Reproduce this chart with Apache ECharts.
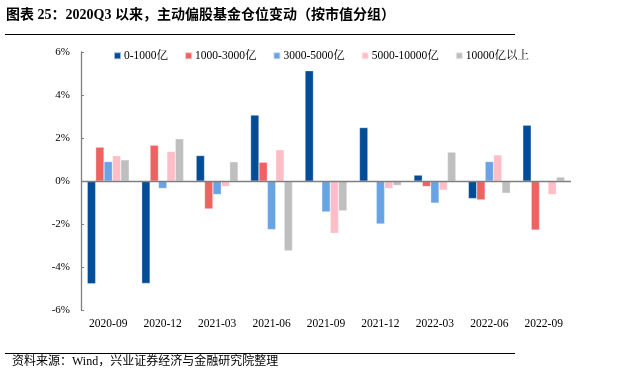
<!DOCTYPE html>
<html><head><meta charset="utf-8">
<script src="https://cdn.jsdelivr.net/npm/echarts@6/dist/echarts.min.js"></script>
<style>
html,body{margin:0;padding:0;background:#fff;}
#wrap{position:relative;width:630px;height:379px;}
#chart{position:absolute;left:0;top:0;width:630px;height:379px;}
</style></head>
<body><div id="wrap"><div id="chart"></div></div>
<script>
const categories = ['2020-09','2020-12','2021-03','2021-06','2021-09','2021-12','2022-03','2022-06','2022-09'];
const seriesNames = ['0-1000亿','1000-3000亿','3000-5000亿','5000-10000亿','10000亿以上'];
const s0 = [-4.77, -4.75, 1.19, 3.07, 5.13, 2.49, 0.28, -0.81, 2.60];
const s1 = [1.58, 1.67, -1.29, 0.88, -0.02, 0.0, -0.25, -0.87, -2.27];
const s2 = [0.91, -0.34, -0.62, -2.25, -1.43, -1.99, -1.02, 0.91, 0.0];
const s3 = [1.18, 1.38, -0.25, 1.46, -2.42, -0.34, -0.42, 1.22, -0.62];
const s4 = [0.99, 1.97, 0.90, -3.24, -1.38, -0.20, 1.35, -0.56, 0.19];
const yTicks = [-6, -4, -2, 0, 2, 4, 6];
const colors = ['#034C96', '#F06262', '#67A3E5', '#FFBDC8', '#BFBFBF'];
const values = [s0, s1, s2, s3, s4];

const serif = '"Liberation Serif","Noto Serif CJK SC","Noto Sans CJK SC",serif';
const chart = echarts.init(document.getElementById('chart'), null, {renderer:'canvas'});
const series = values.map((v, i) => ({
  name: seriesNames[i], type: 'bar', data: v,
  barGap: '0%', barCategoryGap: '23%',
  itemStyle: {color: colors[i], borderColor: 'rgba(255,255,255,0.6)', borderWidth: 0.5},
  markLine: i === 0 ? {silent: true, symbol: 'none', label: {show: false},
    lineStyle: {color: '#7F7F7F', width: 1.3, type: 'solid'}, data: [{yAxis: 0}]} : undefined
}));
chart.setOption({
  animation: false,
  backgroundColor: '#fff',
  color: colors,
  graphic: [
    {type: 'text', left: 6, top: 8, style: {text: '图表 25：2020Q3 以来，主动偏股基金仓位变动（按市值分组）', font: 'bold 14px "Liberation Serif","Noto Sans CJK SC",serif', fill: '#000'}},
    {type: 'line', shape: {x1: 5, y1: 34.5, x2: 515, y2: 34.5}, style: {stroke: '#000', lineWidth: 1}},
    {type: 'line', shape: {x1: 5, y1: 353.5, x2: 515, y2: 353.5}, style: {stroke: '#000', lineWidth: 1}},
    {type: 'text', left: 12, top: 356, style: {text: '资料来源：Wind，兴业证券经济与金融研究院整理', font: '12px "Liberation Serif","Noto Sans CJK SC",serif', fill: '#000'}}
  ],
  legend: {
    top: 45, left: 108, itemWidth: 7, itemHeight: 7, itemGap: 16, icon: 'rect',
    textStyle: {fontFamily: serif, fontSize: 11.5, color: '#000', padding: [0,0,0,-2]},
    data: seriesNames
  },
  grid: {left: 81, right: 59, top: 52, bottom: 68.7, containLabel: false},
  xAxis: {
    type: 'category', data: categories,
    axisLine: {show: false}, axisTick: {show: false},
    axisLabel: {fontFamily: serif, fontSize: 11.5, color: '#000', margin: 8}
  },
  yAxis: {
    type: 'value', min: -6, max: 6, interval: 2,
    axisLine: {show: true, lineStyle: {color: '#7F7F7F', width: 1.3}},
    axisTick: {show: true, inside: true, length: 3, lineStyle: {color: '#7F7F7F'}},
    splitLine: {show: false},
    axisLabel: {fontFamily: serif, fontSize: 11, color: '#000', margin: 11,
      formatter: v => (yTicks.includes(v) ? v + '%' : '')}
  },
  series: series
});
</script></body></html>
